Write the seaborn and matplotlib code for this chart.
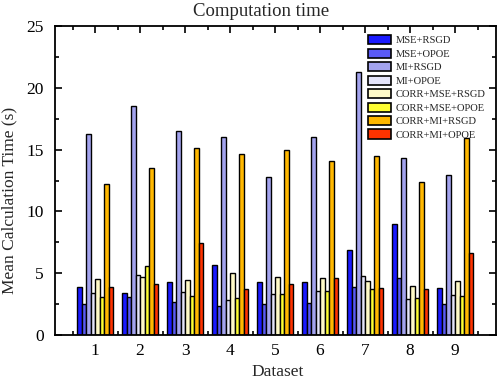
import numpy as np
import pandas as pd
import matplotlib
matplotlib.use("Agg")
import matplotlib.pyplot as plt
import seaborn as sns
from matplotlib.ticker import MultipleLocator, FixedLocator

datasets = ["1", "2", "3", "4", "5", "6", "7", "8", "9"]
methods = ["MSE+RSGD", "MSE+OPOE", "MI+RSGD", "MI+OPOE",
           "CORR+MSE+RSGD", "CORR+MSE+OPOE", "CORR+MI+RSGD", "CORR+MI+OPOE"]
mse_rsgd      = [3.9, 3.4, 4.3, 5.7, 4.3, 4.3, 6.9, 9.0, 3.8]
mse_opoe      = [2.5, 3.1, 2.7, 2.35, 2.5, 2.6, 3.85, 4.6, 2.5]
mi_rsgd       = [16.25, 18.55, 16.5, 16.0, 12.8, 16.0, 21.25, 14.3, 12.95]
mi_opoe       = [3.4, 4.85, 3.5, 2.85, 3.3, 3.55, 4.8, 2.9, 3.2]
corr_mse_rsgd = [4.55, 4.7, 4.45, 5.0, 4.7, 4.65, 4.4, 4.0, 4.4]
corr_mse_opoe = [3.1, 5.6, 3.15, 3.0, 3.3, 3.6, 3.7, 3.0, 3.15]
corr_mi_rsgd  = [12.2, 13.5, 15.15, 14.65, 14.95, 14.1, 14.5, 12.4, 15.9]
corr_mi_opoe  = [3.9, 4.15, 7.45, 3.75, 4.1, 4.65, 3.8, 3.7, 6.6]
colors = ["#1a1aff", "#5a5af5", "#a3a3ee", "#e4e4fa",
          "#fffac8", "#ffff33", "#ffb800", "#ff3300"]

series = [mse_rsgd, mse_opoe, mi_rsgd, mi_opoe,
          corr_mse_rsgd, corr_mse_opoe, corr_mi_rsgd, corr_mi_opoe]
rows = []
for m, vals in zip(methods, series):
    for d, v in zip(datasets, vals):
        rows.append({"Dataset": d, "Method": m, "Time": v})
df = pd.DataFrame(rows)

sns.set_theme(style="white")
plt.rcParams['font.family'] = ['Liberation Serif', 'DejaVu Serif']

fig = plt.figure(figsize=(4.98, 3.79), dpi=100)
ax = fig.add_axes([55/498, 1-335/379, (496-55)/498, (335-26)/379])
sns.barplot(data=df, x="Dataset", y="Time", hue="Method", hue_order=methods,
            order=datasets, palette=colors, width=0.8, edgecolor="black",
            linewidth=1.0, saturation=1, errorbar=None, ax=ax)

ax.set_xlim(-0.89, 8.91)
ax.set_ylim(0, 25)
ax.yaxis.set_major_locator(MultipleLocator(5))
ax.yaxis.set_minor_locator(MultipleLocator(2.5))
ax.xaxis.set_minor_locator(FixedLocator(np.arange(-0.5, 9.0, 1.0)))
ax.tick_params(which="both", direction="in", top=True, right=True,
               bottom=True, left=True, colors="black", labelsize=12.5)
ax.tick_params(which="major", length=5, width=1.2)
ax.tick_params(which="minor", length=3, width=1.2)
ax.tick_params(axis="y", which="major", pad=8)
ax.tick_params(axis="x", which="major", pad=6)
for s in ax.spines.values():
    s.set_color("black")
    s.set_linewidth(1.3)

ax.text(0.467, 1.032, "Computation time", transform=ax.transAxes,
        ha="center", va="baseline", fontsize=13.5)
ax.set_xlabel("Dataset", fontsize=12.5)
ax.xaxis.set_label_coords(0.505, -0.095)
ax.set_ylabel("Mean Calculation Time (s)", fontsize=12.5)
ax.yaxis.set_label_coords(-0.085, 0.437)

leg = ax.legend(loc="upper left", bbox_to_anchor=(0.71, 0.97), frameon=False,
                fontsize=7.6, borderaxespad=0, borderpad=0,
                handlelength=2.2, handleheight=0.95, handletextpad=0.4,
                labelspacing=0.31)
for h in leg.legend_handles:
    h.set_edgecolor("black")
    h.set_linewidth(1.2)

fig.savefig("out.png", dpi=100)
